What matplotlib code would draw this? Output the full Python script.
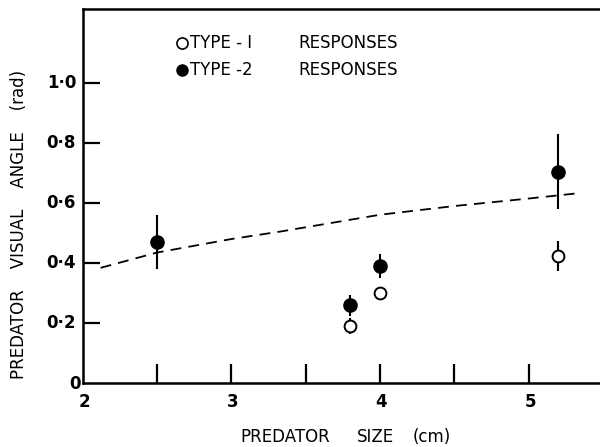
import matplotlib
matplotlib.use('Agg')
import matplotlib.pyplot as plt

# data
type1_size = [3.8, 4.0, 5.2]
type1_angle = [0.19, 0.30, 0.425]
type1_err = [0.027, 0.0, 0.05]

type2_size = [2.5, 3.8, 4.0, 5.2]
type2_angle = [0.47, 0.26, 0.39, 0.705]
type2_err = [0.09, 0.035, 0.04, 0.125]

curve_size = [2.12, 2.5, 3.0, 3.33, 4.0, 4.5, 5.0, 5.32]
curve_angle = [0.384, 0.435, 0.48, 0.505, 0.561, 0.59, 0.615, 0.632]

xticks = [2.5, 3, 3.5, 4, 4.5, 5]
xlabels = [2, 3, 4, 5]
yticks = [0.2, 0.4, 0.6, 0.8, 1.0]

plt.rcParams['font.family'] = ['DejaVu Sans']

fig = plt.figure(figsize=(6, 4.47), dpi=100)
ax = fig.add_axes([0.138, 0.1432, 0.862, 0.8367])

ax.plot(curve_size, curve_angle, color='black', lw=1.3, dashes=(6, 4))

ax.errorbar(type2_size, type2_angle, yerr=type2_err, fmt='o', color='black',
            ms=9.5, elinewidth=1.5, capsize=0, zorder=3)
ax.errorbar(type1_size, type1_angle, yerr=type1_err, fmt='o', color='black',
            mfc='white', mec='black', mew=1.4, ms=8.5, elinewidth=1.5,
            capsize=0, zorder=3)

ax.set_xlim(2, 5.48)
ax.set_ylim(0, 1.247)

ax.spines['right'].set_visible(False)
for s in ['left', 'bottom', 'top']:
    ax.spines[s].set_linewidth(1.8)

ax.set_xticks(xticks)
ax.set_yticks(yticks)
ax.tick_params(axis='x', direction='in', length=14, width=1.6, labelbottom=False)
ax.tick_params(axis='y', direction='in', length=12, width=1.6, labelleft=False)

# tick labels with middle dot
for v in xlabels:
    ax.text(v + 0.01, -0.035, str(v), ha='center', va='top', fontsize=12,
            fontweight='bold')
ax.text(1.985, -0.005, '0', ha='right', va='center', fontsize=12, fontweight='bold')
for v in yticks:
    lab = ('%.1f' % v).replace('.', '·')
    ax.text(1.955, v, lab, ha='right', va='center', fontsize=12, fontweight='bold')

# axis titles
ybase = 1 - 442 / 447
fig.text(240 / 600, ybase, 'PREDATOR', ha='left', va='baseline', fontsize=12)
fig.text(357 / 600, ybase, 'SIZE', ha='left', va='baseline', fontsize=12)
fig.text(413 / 600, ybase, '(cm)', ha='left', va='baseline', fontsize=12)
fig.text(19 / 600, 1 - 224 / 447, 'PREDATOR    VISUAL    ANGLE    (rad)',
         rotation=90, ha='center', va='center', fontsize=12)

# legend drawn by hand like the original
ax.plot([2.667], [1.135], 'o', mfc='white', mec='black', mew=1.2, ms=8)
ax.plot([2.667], [1.042], 'o', color='black', ms=8)
ax.text(2.72, 1.135, 'TYPE - I', va='center', fontsize=12)
ax.text(2.72, 1.042, 'TYPE -2', va='center', fontsize=12)
ax.text(3.448, 1.135, 'RESPONSES', va='center', fontsize=12)
ax.text(3.448, 1.042, 'RESPONSES', va='center', fontsize=12)

fig.savefig('out.png', dpi=100)
